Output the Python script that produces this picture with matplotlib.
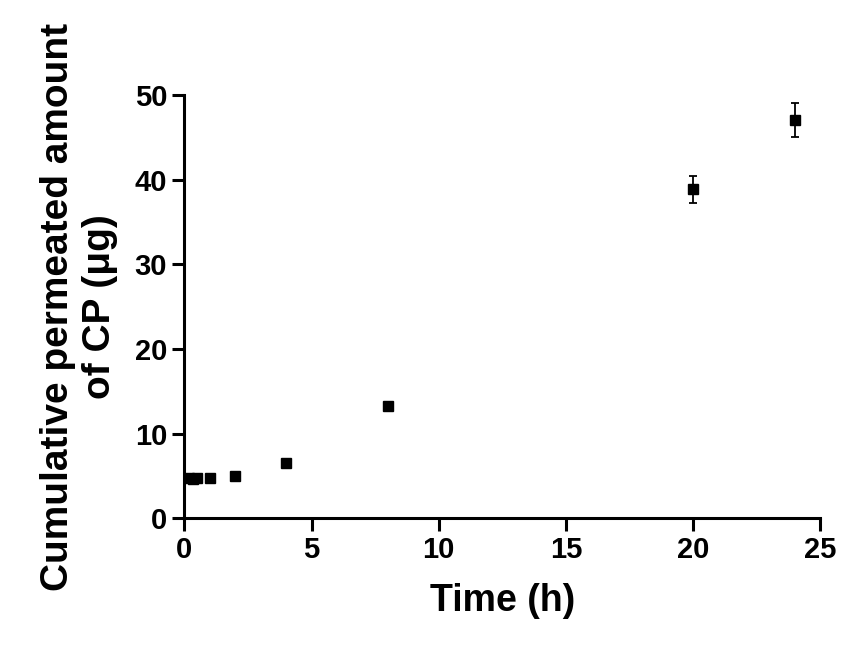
import matplotlib
matplotlib.use("Agg")
import matplotlib.pyplot as plt

time_h = [0.17, 0.33, 0.5, 1, 2, 4, 8, 20, 24]
amount = [4.7, 4.6, 4.7, 4.8, 5.0, 6.5, 13.3, 38.9, 47.1]
err = [0.2, 0.2, 0.2, 0.2, 0.2, 0.3, 0.4, 1.6, 2.0]

plt.rcParams['font.family'] = ['Liberation Sans', 'DejaVu Sans']
fig = plt.figure(figsize=(8.66, 6.61), dpi=100)
ax = fig.add_axes([0.213, 0.216, 0.734, 0.64])
ax.errorbar(time_h, amount, yerr=err, fmt='s', color='black', ms=7, capsize=3, elinewidth=1.3, capthick=1.3)
ax.set_xlim(0, 25)
ax.set_ylim(0, 50)
ax.set_xticks([0, 5, 10, 15, 20, 25])
ax.set_yticks([0, 10, 20, 30, 40, 50])
for s in ['top', 'right']:
    ax.spines[s].set_visible(False)
for s in ['left', 'bottom']:
    ax.spines[s].set_linewidth(2.2)
ax.tick_params(width=2.2, length=9, labelsize=21)
for lab in ax.get_xticklabels() + ax.get_yticklabels():
    lab.set_fontweight('bold')
ax.set_xlabel('Time (h)', fontsize=27, fontweight='bold', labelpad=14)
ax.set_ylabel('Cumulative permeated amount\nof CP (μg)', fontsize=28, fontweight='bold', labelpad=12)
fig.savefig('out.png', dpi=100)
